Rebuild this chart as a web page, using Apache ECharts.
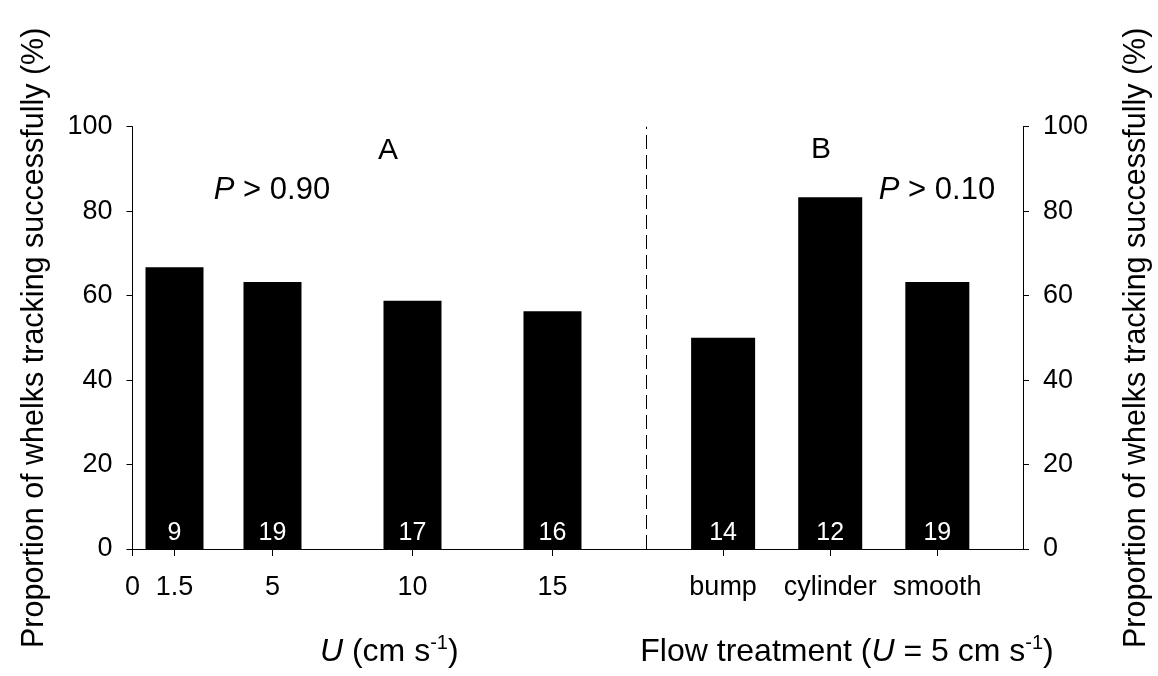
<!DOCTYPE html>
<html>
<head>
<meta charset="utf-8">
<script src="https://cdn.jsdelivr.net/npm/echarts@6/dist/echarts.min.js"></script>
<style>html,body{margin:0;padding:0;background:#fff}#c{width:1158px;height:676px}</style>
</head>
<body>
<div id="c"></div>
<script>
// Panel A: flow speed U (cm s-1)
const speedsA = [1.5, 5, 10, 15];
const valuesA = [66.7, 63.2, 58.8, 56.3];
const nA = [9, 19, 17, 16];
const tickValuesA = [0, 1.5, 5, 10, 15];
// Panel B: flow treatment (U = 5 cm s-1)
const categoriesB = ['bump', 'cylinder', 'smooth'];
const valuesB = [50.0, 83.3, 63.2];
const nB = [14, 12, 19];
const yTicks = [0, 20, 40, 60, 80, 100];

const FONT = '"Liberation Sans", Arial, sans-serif';
const chart = echarts.init(document.getElementById('c'), null, {renderer: 'canvas'});

const axisLine = {show: true, lineStyle: {color: '#000', width: 1}};
const nameStyle = {
  fontFamily: FONT, fontSize: 32, color: '#000', lineHeight: 38,
  rich: {
    i: {fontFamily: FONT, fontSize: 32, fontStyle: 'italic', color: '#000', lineHeight: 38},
    sup: {fontFamily: FONT, fontSize: 20, color: '#000', verticalAlign: 'top', lineHeight: 24}
  }
};
const yName = 'Proportion of whelks tracking successfully (%)';

const option = {
  animation: false,
  backgroundColor: '#fff',
  grid: [
    {left: 132.5, top: 126.7, width: 513.5, height: 427, containLabel: false},
    {left: 646, top: 126.7, width: 377, height: 427, containLabel: false}
  ],
  xAxis: [
    {
      type: 'value', gridIndex: 0, min: 0, max: 18.34,
      axisLine: axisLine,
      splitLine: {show: false},
      axisTick: {show: true, inside: false, length: 7, lineStyle: {color: '#000'}, customValues: tickValuesA},
      axisLabel: {fontFamily: FONT, fontSize: 27, color: '#000', margin: 25, customValues: tickValuesA,
        formatter: v => String(v)},
      name: '{i|U} (cm s{sup|-1})', nameLocation: 'middle', nameGap: 84,
      nameTextStyle: Object.assign({}, nameStyle, {padding: [0, 0, 0, 0]})
    },
    {
      type: 'value', gridIndex: 1, min: 0.28, max: 3.80,
      axisLine: axisLine,
      splitLine: {show: false},
      axisTick: {show: true, inside: false, length: 7, lineStyle: {color: '#000'}, customValues: [1, 2, 3]},
      axisLabel: {fontFamily: FONT, fontSize: 27, color: '#000', margin: 25, customValues: [1, 2, 3],
        formatter: v => categoriesB[Math.round(v) - 1] || ''},
      name: 'Flow treatment ({i|U} = 5 cm s{sup|-1})', nameLocation: 'middle', nameGap: 84,
      nameTextStyle: Object.assign({}, nameStyle, {padding: [0, 0, 0, 25]})
    }
  ],
  yAxis: [
    {
      type: 'value', gridIndex: 0, position: 'left', min: 0, max: 100, interval: 20,
      axisLine: axisLine, splitLine: {show: false},
      axisTick: {show: true, inside: false, length: 6, lineStyle: {color: '#000'}},
      axisLabel: {fontFamily: FONT, fontSize: 27, color: '#000', margin: 20},
      name: yName, nameLocation: 'middle', nameRotate: 90, nameGap: 82,
      nameTextStyle: {fontFamily: FONT, fontSize: 30.5, color: '#000'}
    },
    {
      type: 'value', gridIndex: 1, position: 'right', min: 0, max: 100, interval: 20,
      axisLine: axisLine, splitLine: {show: false},
      axisTick: {show: true, inside: false, length: 6, lineStyle: {color: '#000'}},
      axisLabel: {fontFamily: FONT, fontSize: 27, color: '#000', margin: 20},
      name: yName, nameLocation: 'middle', nameRotate: 90, nameGap: 98,
      nameTextStyle: {fontFamily: FONT, fontSize: 30.5, color: '#000'}
    }
  ],
  series: [
    {
      type: 'bar', xAxisIndex: 0, yAxisIndex: 0, barWidth: 58,
      itemStyle: {color: '#000'},
      data: speedsA.map((s, i) => [s, valuesA[i]]),
      label: {show: true, position: 'insideBottom', distance: 3, color: '#fff',
        fontFamily: FONT, fontSize: 25, formatter: p => String(nA[p.dataIndex])}
    },
    {
      type: 'bar', xAxisIndex: 1, yAxisIndex: 1, barWidth: 64,
      itemStyle: {color: '#000'},
      data: categoriesB.map((c, i) => [i + 1, valuesB[i]]),
      label: {show: true, position: 'insideBottom', distance: 3, color: '#fff',
        fontFamily: FONT, fontSize: 25, formatter: p => String(nB[p.dataIndex])},
      markLine: {
        silent: true, symbol: ['none', 'none'], label: {show: false},
        lineStyle: {color: '#000', type: [14, 6], width: 1},
        data: [{xAxis: 0.28}]
      }
    }
  ],
  graphic: [
    {type: 'text', x: 388, y: 151, style: {text: 'A', fontFamily: FONT, fontSize: 30, fill: '#000', align: 'center', verticalAlign: 'middle'}},
    {type: 'text', x: 821, y: 150, style: {text: 'B', fontFamily: FONT, fontSize: 30, fill: '#000', align: 'center', verticalAlign: 'middle'}},
    {type: 'text', x: 272, y: 190, style: {text: '{i|P} > 0.90', fontFamily: FONT, fontSize: 31, fill: '#000', align: 'center', verticalAlign: 'middle',
      rich: {i: {fontFamily: FONT, fontSize: 31, fontStyle: 'italic', fill: '#000'}}}},
    {type: 'text', x: 937, y: 190, style: {text: '{i|P} > 0.10', fontFamily: FONT, fontSize: 31, fill: '#000', align: 'center', verticalAlign: 'middle',
      rich: {i: {fontFamily: FONT, fontSize: 31, fontStyle: 'italic', fill: '#000'}}}}
  ]
};
chart.setOption(option);
</script>
</body>
</html>
